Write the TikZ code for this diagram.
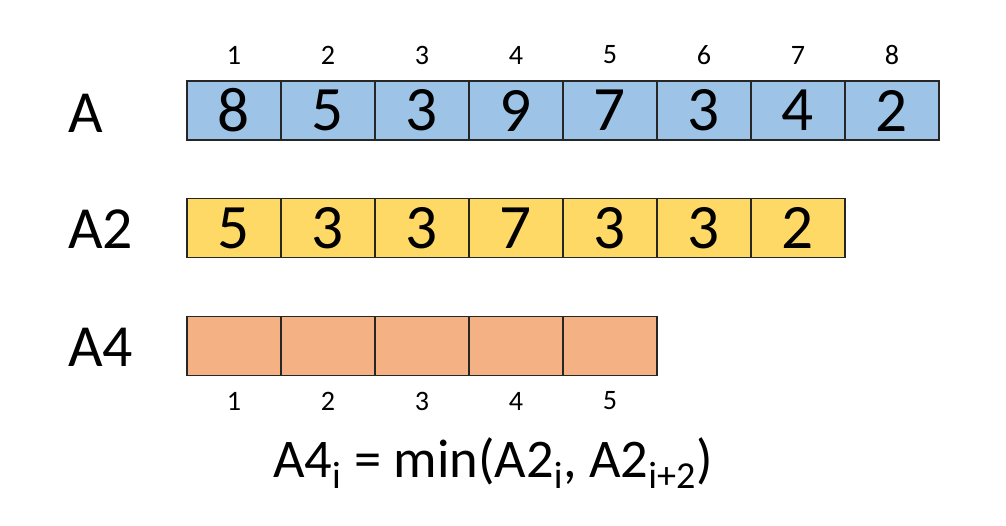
\documentclass[tikz,border=0pt]{standalone}
\usepackage{fontspec}
\setmainfont{Carlito}
\usetikzlibrary{positioning}

\definecolor{cellblue}{HTML}{9DC3E6}
\definecolor{cellyellow}{HTML}{FFD966}
\definecolor{cellorange}{HTML}{F4B183}

\tikzset{
  cell/.style={draw=black!85, line width=0.6pt, inner sep=0pt, outer sep=0pt,
    minimum width=1.88cm, minimum height=1.18cm, font=\fontsize{36}{40}\selectfont},
  idx/.style={font=\fontsize{16}{18}\selectfont},
  rowname/.style={anchor=west, font=\fontsize{34}{38}\selectfont}
}

\begin{document}
\begin{tikzpicture}[x=0.02cm, y=-0.02cm]
\useasboundingbox (0,0) rectangle (1006,525);

% Row labels
\node[rowname] (lA) at (62,113) {A};
\node[rowname] (lA2) at (62,229) {A2};
\node[rowname] (lA4) at (62,347) {A4};

% Array A
\foreach \v [count=\i] in {8,5,3,9,7,3,4,2} {
  \node[cell, fill=cellblue] (a\i) at (140+94*\i,110.5) {\v};
  \node[idx] (ia\i) at (a\i |- 0,55) {\i};
}

% Array A2
\foreach \v [count=\i] in {5,3,3,7,3,3,2} {
  \node[cell, fill=cellyellow] (b\i) at (140+94*\i,228) {\v};
}

% Array A4
\foreach \i in {1,...,5} {
  \node[cell, fill=cellorange] (c\i) at (140+94*\i,346) {};
  \node[idx] (ic\i) at (c\i |- 0,401) {\i};
}

% Formula
\node[font=\fontsize{31}{36}\selectfont] (rule) at (493,463)
  {A4\textsubscript{i} = min(A2\textsubscript{i}, A2\textsubscript{i+2})};

\end{tikzpicture}
\end{document}
